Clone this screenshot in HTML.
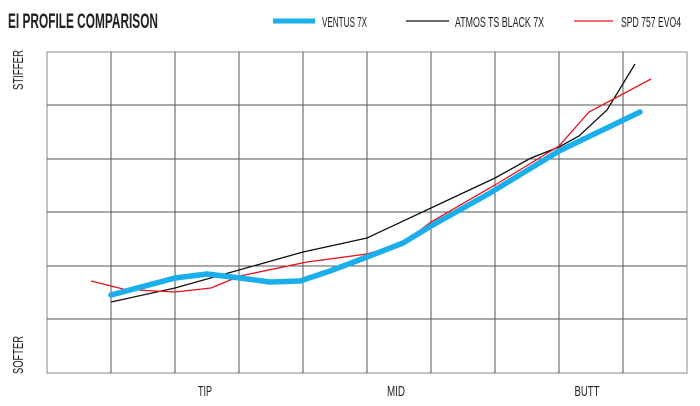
<!DOCTYPE html>
<html><head><style>
html,body{margin:0;padding:0;background:#fff;}
svg text{font-family:"Liberation Sans Narrow","Liberation Sans",sans-serif;fill:#222;}
</style></head><body>
<svg width="700" height="401" viewBox="0 0 700 401" xmlns="http://www.w3.org/2000/svg">
<rect width="700" height="401" fill="#fff"/>
<text x="8" y="28" font-size="21" font-weight="bold" textLength="150" lengthAdjust="spacingAndGlyphs">EI PROFILE COMPARISON</text>
<line x1="273" y1="21" x2="315" y2="21" stroke="#1aaeea" stroke-width="5"/>
<text x="322" y="27" font-size="15" textLength="45" lengthAdjust="spacingAndGlyphs">VENTUS 7X</text>
<line x1="406" y1="21" x2="449" y2="21" stroke="#111" stroke-width="1.3"/>
<text x="455" y="27" font-size="15" textLength="89" lengthAdjust="spacingAndGlyphs">ATMOS TS BLACK 7X</text>
<line x1="574" y1="21" x2="613" y2="21" stroke="#e8101a" stroke-width="1.3"/>
<text x="621" y="27" font-size="15" textLength="60" lengthAdjust="spacingAndGlyphs">SPD 757 EVO4</text>
<g stroke="#555" stroke-width="1" fill="none">
<rect x="47" y="52" width="640" height="321" stroke="#888"/>
<line x1="111" y1="52" x2="111" y2="373"/><line x1="175" y1="52" x2="175" y2="373"/>
<line x1="239" y1="52" x2="239" y2="373"/><line x1="303" y1="52" x2="303" y2="373"/>
<line x1="367" y1="52" x2="367" y2="373"/><line x1="431" y1="52" x2="431" y2="373"/>
<line x1="495" y1="52" x2="495" y2="373"/><line x1="559" y1="52" x2="559" y2="373"/>
<line x1="623" y1="52" x2="623" y2="373"/>
<line x1="47" y1="105" x2="687" y2="105"/><line x1="47" y1="159" x2="687" y2="159"/>
<line x1="47" y1="212" x2="687" y2="212"/><line x1="47" y1="266" x2="687" y2="266"/>
<line x1="47" y1="319" x2="687" y2="319"/>
</g>
<text transform="translate(23,90) rotate(-90)" font-size="15" textLength="40" lengthAdjust="spacingAndGlyphs">STIFFER</text>
<text transform="translate(23,374) rotate(-90)" font-size="15" textLength="38" lengthAdjust="spacingAndGlyphs">SOFTER</text>
<text x="205" y="396" font-size="15" text-anchor="middle" textLength="14" lengthAdjust="spacingAndGlyphs">TIP</text>
<text x="396" y="396" font-size="15" text-anchor="middle" textLength="18" lengthAdjust="spacingAndGlyphs">MID</text>
<text x="587" y="396" font-size="15" text-anchor="middle" textLength="25" lengthAdjust="spacingAndGlyphs">BUTT</text>
<polyline fill="none" stroke="#111" stroke-width="1.3" points="111,302 175,288 239,270 303,252 367,238 431,208 495,178 531,158 559,147 579,136 607,110 635,64"/>
<polyline fill="none" stroke="#e8101a" stroke-width="1.3" points="91,281 123,289 155,291 175,292 211,288 240,276 307,262 367,254 403,243 431,222 495,185 559,146 589,112 651,79"/>
<polyline fill="none" stroke="#1aaeea" stroke-width="5.5" stroke-linejoin="round" stroke-linecap="round" points="111,295 175,278 207,274 240,278 270,282 300,281 330,271 367,257 403,243 431,226 490,193 559,151 640,112"/>
</svg>
</body></html>
